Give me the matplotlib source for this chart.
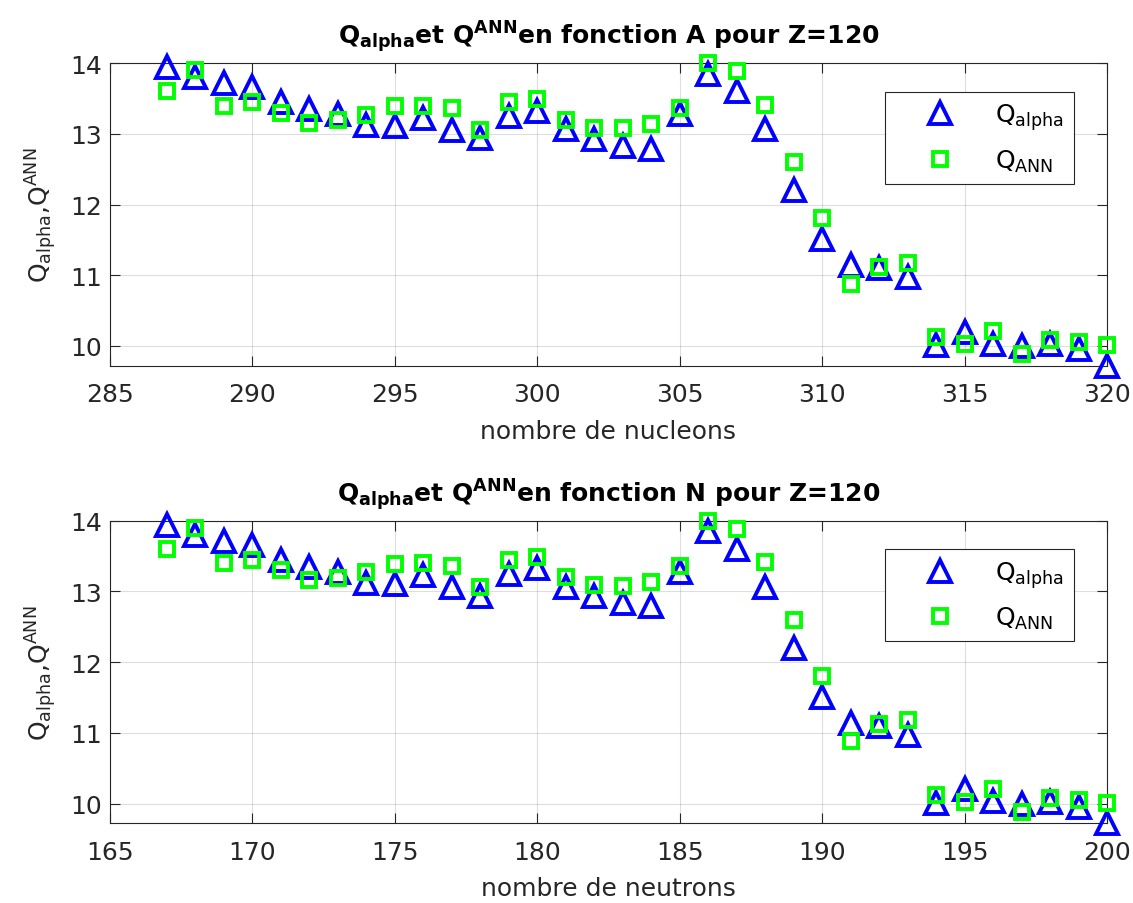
import matplotlib.pyplot as plt
from matplotlib.lines import Line2D

plt.rcParams['font.family'] = ['DejaVu Sans']
plt.rcParams['mathtext.fontset'] = 'dejavusans'

# nombre de nucleons / neutrons pour Z=120
A = list(range(287, 321))
N = list(range(167, 201))

q_alpha = [13.94, 13.80, 13.72, 13.66, 13.45, 13.35, 13.28, 13.12, 13.11, 13.23,
           13.06, 12.94, 13.25, 13.33, 13.07, 12.93, 12.83, 12.79, 13.28, 13.85,
           13.60, 13.07, 12.20, 11.51, 11.14, 11.10, 10.97, 10.01, 10.20, 10.03,
           10.00, 10.02, 9.95, 9.72]
q_ann = [13.60, 13.90, 13.40, 13.45, 13.30, 13.16, 13.19, 13.27, 13.39, 13.40,
         13.36, 13.06, 13.45, 13.49, 13.20, 13.09, 13.08, 13.14, 13.36, 14.00,
         13.89, 13.41, 12.60, 11.81, 10.88, 11.12, 11.18, 10.12, 10.02, 10.21,
         9.88, 10.08, 10.05, 10.01]

dark = '#262626'
W, H = 1133, 904
fig = plt.figure(figsize=(W / 100, H / 100), dpi=100)

panels = [
    (A, (285, 320), 'nombre de nucleons', 'A', 366.7),
    (N, (165, 200), 'nombre de neutrons', 'N', 824.3),
]

for x, xlim, xlab, var, ybot in panels:
    ax = fig.add_axes([110 / W, (H - ybot) / H, 997 / W, 302.5 / H])
    ax.plot(x, q_alpha, linestyle='none', marker='^', ms=16, mew=2.8,
            mec=(0, 0, 1), mfc='none', clip_on=False, zorder=3)
    ax.plot(x, q_ann, linestyle='none', marker='s', ms=10.5, mew=2.8,
            mec=(0, 1, 0), mfc='none', clip_on=False, zorder=3)
    ax.set_xlim(xlim)
    ax.set_ylim(9.72, 14.0)
    ax.set_xticks(range(xlim[0], xlim[1] + 1, 5))
    ax.set_yticks([10, 11, 12, 13, 14])
    ax.grid(True, color=dark, alpha=0.15, linewidth=0.8)
    ax.set_axisbelow(True)
    ax.tick_params(direction='in', length=7, width=0.8, top=True, right=True,
                   labelsize=18, colors=dark)
    ax.tick_params(axis='x', pad=12)
    ax.tick_params(axis='y', pad=6)
    for s in ax.spines.values():
        s.set_color(dark)
        s.set_linewidth(0.8)
    ax.set_xlabel(xlab, fontsize=18, color=dark, labelpad=9)
    ax.set_ylabel(r'Q$_{\mathrm{alpha}}$,Q$^{\mathrm{ANN}}$', fontsize=18,
                  color=dark, labelpad=8)
    ax.set_title(r'Q$_{\mathbf{alpha}}$et Q$^{\mathbf{ANN}}$en fonction ' + var
                 + ' pour Z=120', fontsize=18, fontweight='bold', pad=14)
    handles = [
        Line2D([], [], linestyle='none', marker='^', ms=16, mew=2.8,
               mec=(0, 0, 1), mfc='none'),
        Line2D([], [], linestyle='none', marker='s', ms=10.5, mew=2.8,
               mec=(0, 1, 0), mfc='none'),
    ]
    leg = ax.legend(handles, [r'Q$_{\mathrm{alpha}}$', r'Q$_{\mathrm{ANN}}$'],
                    loc='upper right', bbox_to_anchor=(0.967, 0.906),
                    fontsize=18, fancybox=False, framealpha=1,
                    edgecolor=dark, handlelength=3.6, handletextpad=0.4,
                    borderpad=0.4, labelspacing=0.6, borderaxespad=0)
    leg.get_frame().set_linewidth(0.8)

fig.savefig('out.png', dpi=100)
